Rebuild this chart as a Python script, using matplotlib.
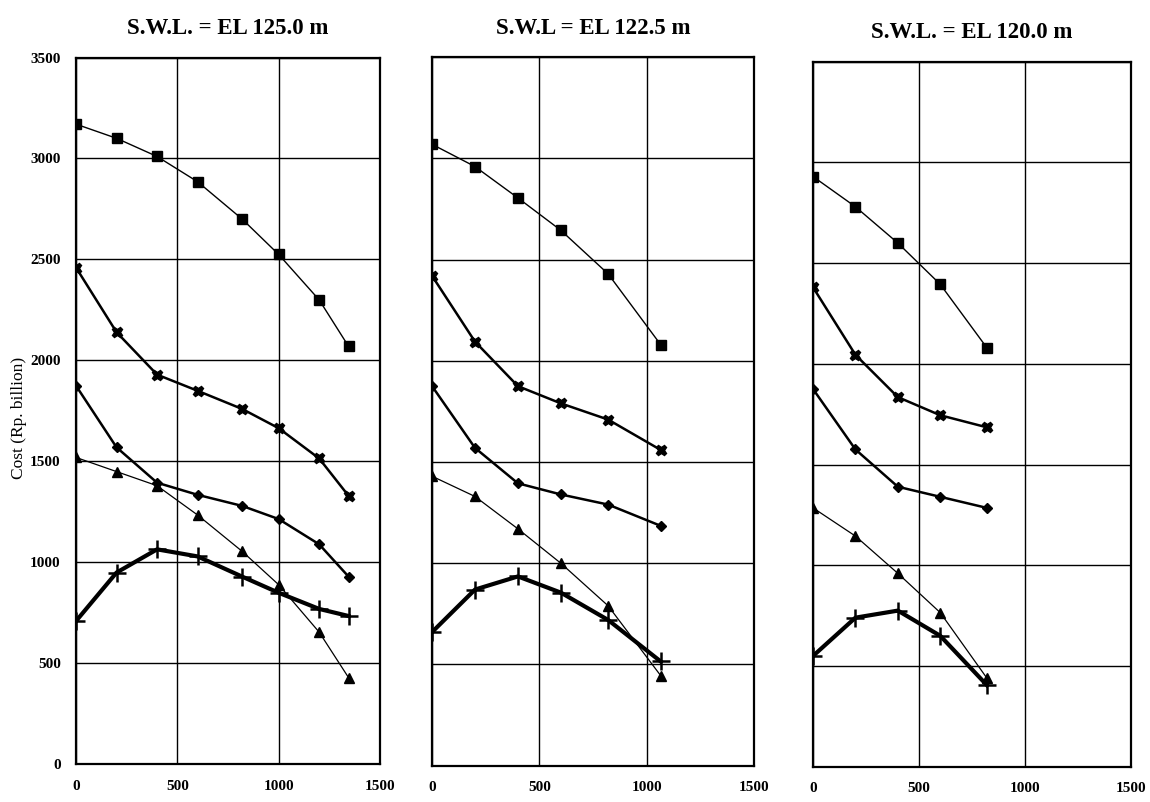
import matplotlib
matplotlib.use("Agg")
import matplotlib.pyplot as plt

plt.rcParams['font.family'] = ['Liberation Serif', 'DejaVu Serif']

titles = ["S.W.L. = EL 125.0 m", "S.W.L = EL 122.5 m", "S.W.L. = EL 120.0 m"]

# x positions of the points in each panel
x_125 = [0, 200, 400, 600, 820, 1000, 1200, 1345]
x_1225 = [0, 200, 400, 600, 820, 1065]
x_120 = [0, 200, 400, 600, 820]

# S.W.L. 125.0 m
sq_125 = [3170, 3100, 3010, 2885, 2700, 2525, 2300, 2070]
st_125 = [2460, 2140, 1930, 1850, 1760, 1665, 1515, 1330]
di_125 = [1875, 1570, 1395, 1335, 1280, 1215, 1090, 930]
tr_125 = [1520, 1450, 1380, 1235, 1055, 890, 655, 430]
pl_125 = [710, 950, 1065, 1030, 930, 850, 770, 735]

# S.W.L. 122.5 m
sq_1225 = [3070, 2960, 2805, 2645, 2430, 2080]
st_1225 = [2420, 2095, 1875, 1790, 1710, 1560]
di_1225 = [1875, 1570, 1395, 1340, 1290, 1185]
tr_1225 = [1430, 1330, 1170, 1000, 790, 445]
pl_1225 = [660, 870, 935, 855, 720, 515]

# S.W.L. 120.0 m
sq_120 = [2930, 2780, 2600, 2395, 2080]
st_120 = [2380, 2045, 1835, 1745, 1685]
di_120 = [1875, 1575, 1390, 1340, 1285]
tr_120 = [1285, 1145, 960, 765, 440]
pl_120 = [550, 740, 775, 650, 405]

x_ticks = [0, 500, 1000, 1500]
y_ticks = [0, 500, 1000, 1500, 2000, 2500, 3000, 3500]

panels = [
    (x_125, sq_125, st_125, di_125, tr_125, pl_125),
    (x_1225, sq_1225, st_1225, di_1225, tr_1225, pl_1225),
    (x_120, sq_120, st_120, di_120, tr_120, pl_120),
]

# axes boxes in figure fractions, measured off the scanned sheet
boxes = [
    [0.0661, 0.0468, 0.2643, 0.8815],
    [0.3757, 0.0453, 0.2800, 0.8833],
    [0.7070, 0.0440, 0.2765, 0.8790],
]

fig = plt.figure(figsize=(11.5, 8.02), dpi=100)

for i, (box, data) in enumerate(zip(boxes, panels)):
    xs, sq, st, di, tr, pl = data
    ax = fig.add_axes(box)
    ax.plot(xs, sq, color='black', lw=1.0, marker='s', ms=6.5)
    ax.plot(xs, st, color='black', lw=1.8, marker='X', ms=7.5)
    ax.plot(xs, di, color='black', lw=1.8, marker='D', ms=5)
    ax.plot(xs, tr, color='black', lw=0.9, marker='^', ms=6.5)
    ax.plot(xs, pl, color='black', lw=3.0, marker='+', ms=13, mew=1.8)

    ax.set_xlim(0, 1500)
    ax.set_ylim(0, 3500)
    ax.set_xticks(x_ticks)
    ax.set_yticks(y_ticks)
    ax.grid(True, color='black', lw=1.0)
    ax.set_axisbelow(True)
    for sp in ax.spines.values():
        sp.set_linewidth(1.6)
    ax.tick_params(length=0, pad=11, labelsize=11)
    for lab in ax.get_xticklabels() + ax.get_yticklabels():
        lab.set_fontweight('bold')
    if i > 0:
        ax.set_yticklabels([])
    else:
        ax.set_ylabel("Cost (Rp. billion)", fontsize=12.5)
        ax.yaxis.set_label_coords(-0.16, 0.49)
    ax.set_title(titles[i], fontsize=16.5, fontweight='bold', pad=17)

fig.savefig("out.png", dpi=100)
